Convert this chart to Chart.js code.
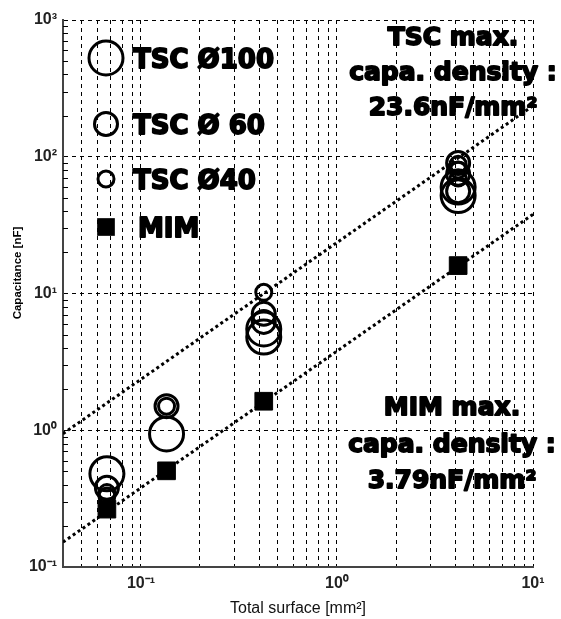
<!DOCTYPE html>
<html>
<head>
<meta charset="utf-8">
<script src="https://cdn.jsdelivr.net/npm/chart.js@4.4.0/dist/chart.umd.min.js"></script>
<style>
html, body { margin: 0; padding: 0; background: #fff; }
</style>
</head>
<body>
<canvas id="c" width="561" height="619"></canvas>
<script>
// values (x = total surface in mm2, y = capacitance in nF)
var tsc100X = [0.067, 0.135, 0.423, 0.423, 4.15, 4.15];
var tsc100Y = [0.48, 0.94, 4.8, 5.5, 52, 60];
var tsc60X = [0.067, 0.135, 0.423, 0.423, 4.15, 4.15, 4.15];
var tsc60Y = [0.38, 1.5, 6.2, 7.1, 56, 75, 90];
var tsc40X = [0.067, 0.067, 0.135, 0.423, 4.15, 4.15, 4.15];
var tsc40Y = [0.33, 0.35, 1.5, 10.2, 70, 80, 88];
var mimX = [0.067, 0.135, 0.423, 4.15];
var mimY = [0.265, 0.505, 1.63, 16.0];

// max. density fit lines
var fitX = [0.04, 10];
var tscFitY = [0.944, 236];
var mimFitY = [0.152, 37.9];

var xMin = 0.04, xMax = 10;
var yMin = 0.1, yMax = 1000;
var expSup = { '-1': '\u207B\u00B9', '0': '\u2070', '1': '\u00B9', '2': '\u00B2', '3': '\u00B3' };

var tscNote = ['TSC max.', 'capa. density :', '23.6nF/mm\u00B2'];
var mimNote = ['MIM max.', 'capa. density :', '3.79nF/mm\u00B2'];

function pts(xs, ys) {
	var out = [];
	for (var i = 0; i < xs.length; i++) out.push({ x: xs[i], y: ys[i] });
	return out;
}

function isPow10(v) {
	var l = Math.log10(v);
	return Math.abs(l - Math.round(l)) < 1e-9;
}

function decadeTicks(min, max) {
	var t = [];
	for (var e = -3; e <= 4; e++) {
		for (var m = 1; m < 10; m++) {
			var v = +(m * Math.pow(10, e)).toPrecision(6);
			if (v >= min * 0.999999 && v <= max * 1.000001) t.push({ value: v });
		}
	}
	return t;
}

function powLabel(v) {
	if (!isPow10(v)) return '';
	return '10' + expSup[String(Math.round(Math.log10(v)))];
}

var tickFont = { family: 'Liberation Sans, Arial, sans-serif', size: 16, weight: 'bold' };

var overlay = {
	id: 'overlay',
	afterDraw: function(chart) {
		var ctx = chart.ctx;
		var area = chart.chartArea;
		var ys = chart.scales.y;
		ctx.save();

		// small inner ticks on the left axis
		ctx.strokeStyle = '#000';
		ctx.lineWidth = 1;
		ys.ticks.forEach(function(t) {
			if (isPow10(t.value)) return;
			var py = Math.round(ys.getPixelForValue(t.value)) + 0.5;
			ctx.beginPath();
			ctx.moveTo(area.left, py);
			ctx.lineTo(area.left + 5, py);
			ctx.stroke();
		});

		// legend inside the plot
		var items = [
			{ ds: 0, label: 'TSC \u00D8100', y: 58, tx: 133 },
			{ ds: 1, label: 'TSC \u00D8 60', y: 124, tx: 133 },
			{ ds: 2, label: 'TSC \u00D840', y: 179, tx: 133 },
			{ ds: 3, label: 'MIM', y: 227, tx: 138 }
		];
		ctx.font = 'bold 26px "DejaVu Sans"';
		ctx.textBaseline = 'alphabetic';
		ctx.lineJoin = 'round';
		items.forEach(function(it) {
			var ds = chart.data.datasets[it.ds];
			var cx = 106;
			if (ds.pointStyle === 'rect') {
				var s = Math.SQRT1_2 * ds.pointRadius;
				ctx.fillStyle = '#000';
				ctx.fillRect(cx - s, it.y - s, 2 * s, 2 * s);
			} else {
				ctx.beginPath();
				ctx.lineWidth = ds.borderWidth;
				ctx.strokeStyle = '#000';
				ctx.arc(cx, it.y, ds.pointRadius, 0, Math.PI * 2);
				ctx.stroke();
			}
			ctx.fillStyle = '#000';
			ctx.lineWidth = 1.8;
			ctx.textAlign = 'left';
			ctx.fillText(it.label, it.tx, it.y + 9.5);
			ctx.strokeText(it.label, it.tx, it.y + 9.5);
		});

		// density notes
		var notes = [
			{ lines: tscNote, x: 453, base: [45, 80, 115] },
			{ lines: mimNote, x: 452, base: [415, 452, 488] }
		];
		ctx.font = 'bold 25px "DejaVu Sans"';
		ctx.textAlign = 'center';
		notes.forEach(function(n) {
			n.lines.forEach(function(s, i) {
				ctx.fillText(s, n.x, n.base[i]);
				ctx.strokeText(s, n.x, n.base[i]);
			});
		});

		// y axis title
		ctx.translate(18, 273);
		ctx.rotate(-Math.PI / 2);
		ctx.font = 'bold 11.5px "Liberation Sans", Arial, sans-serif';
		ctx.textAlign = 'center';
		ctx.textBaseline = 'middle';
		ctx.fillText('Capacitance [nF]', 0, 0);
		ctx.restore();
	}
};

new Chart(document.getElementById('c'), {
	type: 'scatter',
	data: {
		datasets: [{
			label: 'TSC \u00D8100',
			data: pts(tsc100X, tsc100Y),
			pointStyle: 'circle',
			pointRadius: 17,
			borderWidth: 3,
			borderColor: '#000',
			backgroundColor: 'rgba(0,0,0,0)',
			order: 1
		}, {
			label: 'TSC \u00D8 60',
			data: pts(tsc60X, tsc60Y),
			pointStyle: 'circle',
			pointRadius: 11.5,
			borderWidth: 3,
			borderColor: '#000',
			backgroundColor: 'rgba(0,0,0,0)',
			order: 1
		}, {
			label: 'TSC \u00D840',
			data: pts(tsc40X, tsc40Y),
			pointStyle: 'circle',
			pointRadius: 8,
			borderWidth: 3,
			borderColor: '#000',
			backgroundColor: 'rgba(0,0,0,0)',
			order: 1
		}, {
			label: 'MIM',
			data: pts(mimX, mimY),
			pointStyle: 'rect',
			pointRadius: 12.5,
			borderWidth: 1,
			borderColor: '#000',
			backgroundColor: '#000',
			order: 1
		}, {
			label: 'TSC fit',
			data: pts(fitX, tscFitY),
			showLine: true,
			pointRadius: 0,
			borderColor: '#000',
			borderWidth: 3,
			borderDash: [3, 3],
			order: 2
		}, {
			label: 'MIM fit',
			data: pts(fitX, mimFitY),
			showLine: true,
			pointRadius: 0,
			borderColor: '#000',
			borderWidth: 3,
			borderDash: [3, 3],
			order: 2
		}]
	},
	options: {
		responsive: false,
		animation: false,
		events: [],
		layout: { padding: { top: 16, right: 28, left: 0, bottom: 0 } },
		plugins: {
			legend: { display: false },
			tooltip: { enabled: false }
		},
		scales: {
			x: {
				type: 'logarithmic',
				min: xMin,
				max: xMax,
				afterBuildTicks: function(s) { s.ticks = decadeTicks(xMin, xMax); },
				afterFit: function(s) { s.height = 52; },
				ticks: {
					autoSkip: false,
					maxRotation: 0,
					padding: 7,
					color: '#222',
					font: tickFont,
					callback: function(v) { return powLabel(v); }
				},
				grid: { color: '#000', lineWidth: 1, drawTicks: false },
				border: { display: true, color: '#444', width: 2, dash: [4, 4] },
				title: {
					display: true,
					text: 'Total surface [mm\u00B2]',
					color: '#111',
					font: { family: 'Liberation Sans, Arial, sans-serif', size: 16 },
					padding: { top: 0, bottom: 1 }
				}
			},
			y: {
				type: 'logarithmic',
				min: yMin,
				max: yMax,
				afterBuildTicks: function(s) { s.ticks = decadeTicks(yMin, yMax); },
				afterFit: function(s) { s.width = 63; },
				ticks: {
					autoSkip: false,
					padding: 6,
					color: '#222',
					font: tickFont,
					callback: function(v) { return powLabel(v); }
				},
				grid: {
					color: function(c) { return isPow10(c.tick.value) ? '#000' : 'rgba(0,0,0,0)'; },
					lineWidth: 1,
					drawTicks: false
				},
				border: { display: true, color: '#444', width: 2, dash: [4, 4] }
			}
		}
	},
	plugins: [overlay]
});
</script>
</body>
</html>
